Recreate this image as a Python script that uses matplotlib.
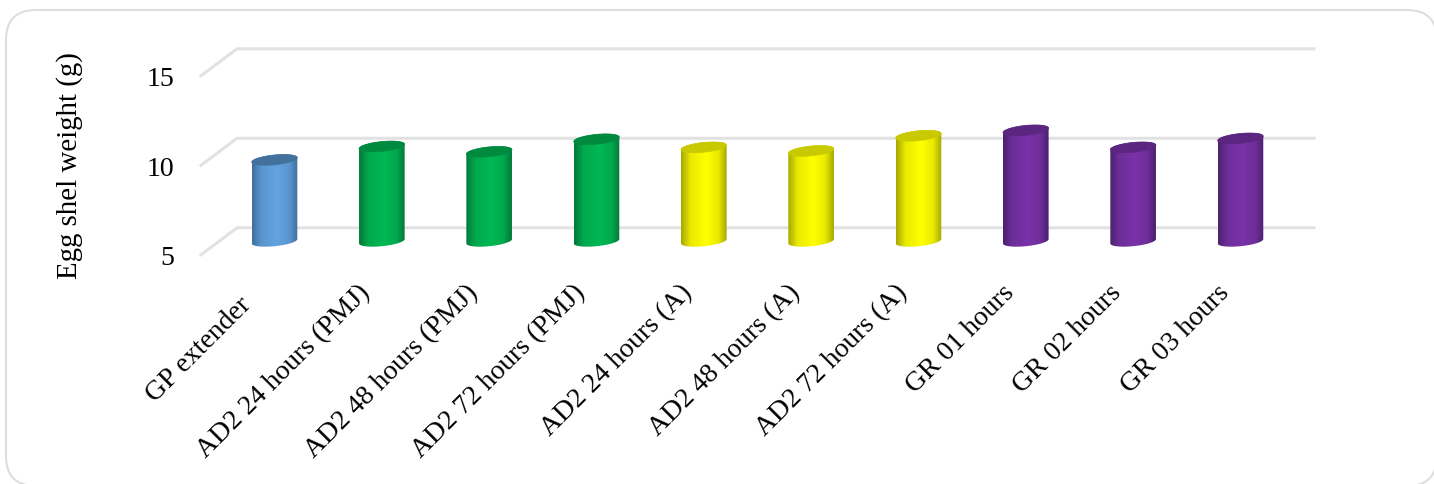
import matplotlib
matplotlib.use("Agg")
import matplotlib.pyplot as plt
import numpy as np
from matplotlib.colors import LinearSegmentedColormap, to_rgb
from matplotlib.patches import FancyBboxPatch, PathPatch
from matplotlib.path import Path
from matplotlib.transforms import IdentityTransform

categories = [
    "GP extender",
    "AD2 24 hours (PMJ)",
    "AD2 48 hours (PMJ)",
    "AD2 72 hours (PMJ)",
    "AD2 24 hours (A)",
    "AD2 48 hours (A)",
    "AD2 72 hours (A)",
    "GR 01 hours",
    "GR 02 hours",
    "GR 03 hours",
]
shell_weight = [9.55, 10.3, 10.0, 10.7, 10.25, 10.05, 10.9, 11.2, 10.25, 10.75]
y_ticks = [5, 10, 15]

# side colour, middle colour, cap colour for each bar group
blue = ("#3f6f9e", "#62a3e0", "#41719c")
green = ("#007a38", "#00b854", "#008a3f")
yellow = ("#a8a800", "#ffff00", "#c9c900")
purple = ("#4b2170", "#7a32a8", "#5a2680")
bar_colors = [blue, green, green, green, yellow, yellow, yellow, purple, purple, purple]

W, H = 1434, 485
X0, DX = 274.5, 107.33  # pixel x of first bar, pixels per category
Y5, DY = 242.3, 17.9    # pixel y of value 5 on the bar plane, pixels per unit
DEPTH_Y = 13.5
RX, RY, TILT = 22.8, 4.9, 2.2  # cap ellipse in pixels
FONT = "Liberation Serif"


def ellipse_points(cx, value, t):
    """Points on a tilted ellipse around a bar centre, in data units."""
    x = cx + RX * np.cos(t) / DX
    y = value + (RY * np.sin(t) + TILT * np.cos(t)) / DY
    return x, y


def shade_cmap(side, middle):
    side, middle = np.array(to_rgb(side)), np.array(to_rgb(middle))
    near = 0.25 * side + 0.75 * middle
    stops = [(0, side), (0.2, near), (0.55, middle), (0.82, near), (1, side)]
    return LinearSegmentedColormap.from_list("bar", stops)


def draw_cylinder(ax, cx, value, colors):
    side, middle, cap = colors
    # outline: lower half of the base, then back over the upper half of the top
    xb, yb = ellipse_points(cx, 5, np.linspace(np.pi, 2 * np.pi, 40))
    xt, yt = ellipse_points(cx, value, np.linspace(0, np.pi, 40))
    outline = np.column_stack([np.r_[xb, xt], np.r_[yb, yt]])
    body = PathPatch(Path(np.vstack([outline, outline[:1]])), fc="none", ec="none",
                     transform=ax.transData)
    ax.add_patch(body)

    half = RX / DX
    img = ax.imshow(np.linspace(0, 1, 64)[None, :], cmap=shade_cmap(side, middle),
                    aspect="auto", extent=(cx - half, cx + half, 4, value + 1), zorder=3,
                    interpolation="bilinear")
    img.set_clip_path(body)

    x, y = ellipse_points(cx, value, np.linspace(0, 2 * np.pi, 60))
    ax.fill(x, y, color=cap, lw=0.5, zorder=4)


fig = plt.figure(figsize=(W / 100, H / 100), dpi=100)
fig.patch.set_facecolor("white")
fig.add_artist(FancyBboxPatch((6 + 30, H - 487 + 30), W + 3 - 6 - 60, 476 - 60,
                              boxstyle="round,pad=30", fc="white", ec="#dedede", lw=1.5,
                              transform=IdentityTransform(), zorder=-1))

ax = fig.add_axes([0, 0, 1, 1])
ax.patch.set_alpha(0)
ax.axis("off")

# floor-to-wall grid: diagonal on the side, flat along the back
depth_y = DEPTH_Y / DY
back_end = (1314 - X0) / DX
for tick in y_ticks:
    ax.plot([-(X0 - 201) / DX, -(X0 - 237) / DX, back_end],
            [tick - depth_y, tick + depth_y, tick + depth_y],
            color="#e2e2e2", lw=2.2, solid_joinstyle="miter", zorder=1)
    ax.annotate(str(tick), (-(X0 - 201) / DX, tick - depth_y), xytext=(-27, -3),
                textcoords="offset pixels", ha="right", va="center", fontsize=20,
                family=FONT, color="black")

for i, (value, colors) in enumerate(zip(shell_weight, bar_colors)):
    draw_cylinder(ax, i, value, colors)
    # the short first label sits further down its diagonal
    offset = (-36, -50) if i == 0 else (-24, -38)
    ax.annotate(categories[i], (i, 5), xytext=offset, textcoords="offset pixels",
                rotation=45, rotation_mode="anchor", ha="right", va="top",
                fontsize=20, family=FONT, color="black")

ax.text((70 - X0) / DX, 5 + (Y5 - 166) / DY, "Egg shel weight (g)", rotation=90,
        ha="center", va="center", fontsize=20.8, family=FONT, color="black")

ax.set_xlim(-X0 / DX, (W - X0) / DX)
ax.set_ylim(5 + (Y5 - H) / DY, 5 + Y5 / DY)

fig.savefig("out.png", dpi=100)
